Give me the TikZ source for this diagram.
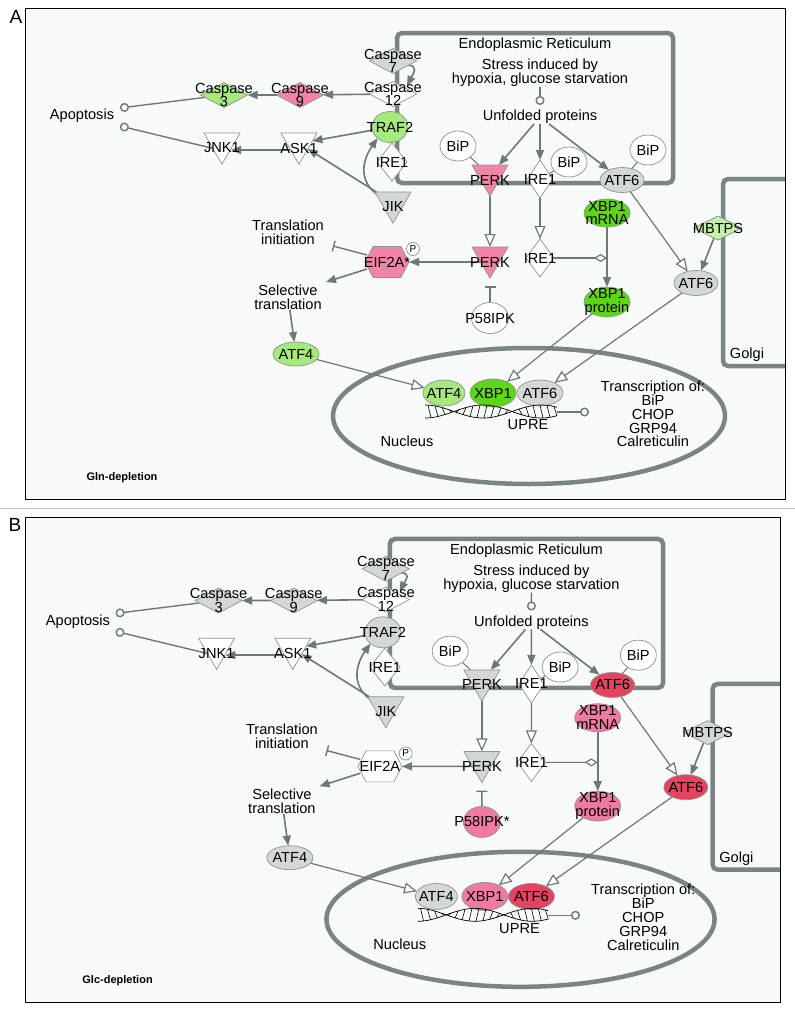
\documentclass[tikz,border=0pt]{standalone}
\usepackage{fontspec}
\setmainfont{Liberation Sans}
\usetikzlibrary{shapes.geometric,shapes.symbols,arrows.meta}
\pgfdeclarelayer{back}
\pgfdeclarelayer{bg}
\pgfsetlayers{back,bg,main}

\definecolor{ipagrey}{HTML}{D3D7D7}
\definecolor{lgreen}{HTML}{A6E97C}
\definecolor{bgreen}{HTML}{5DD616}
\definecolor{pgreen}{HTML}{C6F0A4}
\definecolor{ipapink}{HTML}{F284A6}
\definecolor{bpink}{HTML}{F07AA2}
\definecolor{ipared}{HTML}{E4445F}
\definecolor{conn}{HTML}{6E7878}
\definecolor{compc}{HTML}{7B8484}
\definecolor{shapeline}{HTML}{8C9494}
\definecolor{panelbg}{HTML}{F8F9F9}
\definecolor{sepline}{HTML}{BFBFBF}

\newcommand\ipafont{\fontsize{14.6pt}{13.8pt}\selectfont}

\tikzset{
 txt/.style={font=\ipafont, align=center, inner sep=0pt, text=black},
 shp/.style={draw=shapeline, line width=0.7pt, inner sep=0pt, outer sep=0pt},
 lab/.style={label={[txt]center:#1}},
 klab/.style={label={[txt,yshift=-4.6pt]center:#1}},
 flatdia/.style={shp, diamond, minimum width=47pt, minimum height=25pt},
 talldia/.style={shp, diamond, minimum width=28pt, minimum height=38pt},
 kin/.style={shp, regular polygon, regular polygon sides=3, shape border rotate=180, minimum size=41.6pt},
 tf/.style={shp, ellipse, minimum width=44pt, minimum height=25pt},
 bip/.style={shp, ellipse, fill=white, minimum width=36pt, minimum height=30pt, lab=BiP},
 act/.style={draw=conn, line width=1.6pt, -{Triangle[length=10pt,width=8pt]}},
 trans/.style={draw=conn, line width=1.2pt, -{Triangle[length=13pt,width=11pt,fill=white]}},
 inh/.style={draw=conn, line width=1.4pt, -{Bar[width=11pt]}},
 leads/.style={draw=conn, line width=1.4pt, -{Circle[length=9pt,fill=panelbg]}},
 dtip/.style={draw=conn, line width=1.2pt, -{Diamond[length=13pt,width=8pt,fill=white]}},
 plainln/.style={draw=conn, line width=1pt},
 compart/.style={draw=compc, line width=4.5pt},
 dna/.style={draw=black, line width=0.7pt},
}

\newcommand\drawpanel{%
 % ---------- nodes ----------
 \node[flatdia, fill=ipagrey, lab={Caspase\\7}] (c7) at (393,\csevy) {};
 \node[flatdia, fill=white, lab={Caspase\\12}] (c12) at (393,94) {};
 \node[flatdia, fill=cCnine, lab={Caspase\\9}] (c9) at (300,95) {};
 \node[flatdia, fill=cCthree, lab={Caspase\\3}] (c3) at (224,95) {};
 \node[shp, ellipse, minimum width=36pt, minimum height=31pt, fill=cTRAF, lab=TRAF2] (traf) at (390,127) {};
 \node[talldia, fill=white, minimum width=30pt, lab=IRE1] (irea) at (392,162) {};
 \node[kin, fill=ipagrey, klab=JIK] (jik) at (393,202.4) {};
 \node[kin, fill=white, klab=ASK1] (ask) at (299,143.4) {};
 \node[kin, fill=white, klab=JNK1] (jnk) at (222,143.4) {};
 \node[txt] (apo) at (82,116) {Apoptosis};
 \coordinate (ap1) at (120,108);
 \coordinate (ap2) at (120,126);
 \node[txt] (er) at (535,45) {Endoplasmic Reticulum};
 \node[txt] (stress) at (540,73) {Stress induced by\\hypoxia, glucose starvation};
 \coordinate (stc) at (540,105);
 \node[txt] (unf) at (540,117) {Unfolded proteins};
 \node[bip] (bipa) at (458,146) {};
 \node[kin, fill=cPERK, klab=PERK] (perka) at (490,175.4) {};
 \node[talldia, fill=white, minimum width=25pt, lab=IRE1] (ireb) at (540,179) {};
 \node[bip] (bipb) at (569,162) {};
 \node[bip] (bipc) at (648,150) {};
 \node[tf, fill=cATFsix, lab=ATF6] (atfa) at (622,180) {};
 \node[kin, fill=cPERK, klab=PERK] (perkb) at (490,257.4) {};
 \node[talldia, fill=white, lab=IRE1] (irec) at (540,258) {};
 \node[tf, fill=cXBPm, minimum width=46pt, minimum height=28pt, lab={XBP1\\mRNA}] (xbpm) at (607,213) {};
 \node[tf, fill=cXBPp, minimum width=46pt, minimum height=30pt, lab={XBP1\\protein}] (xbpp) at (607,302) {};
 \coordinate (xbpj) at (607,258);
 \node[shp, signal, signal to=east and west, signal pointer angle=125, minimum width=44pt, minimum height=31pt, fill=cEIF, lab=\eiftext] (eif) at (387,262) {};
 \node[shp, circle, fill=white, minimum size=13pt, label={[font=\fontsize{10pt}{10pt}\selectfont, inner sep=0pt]center:P}] (pc) at (413,249) {};
 \node[shp, ellipse, minimum width=37pt, minimum height=31pt, fill=cPIK, lab=\piktext] (pik) at (490,318) {};
 \node[txt] (tinit) at (288,232) {Translation\\initiation};
 \coordinate (tiend) at (333,246);
 \node[txt] (sel) at (288,297) {Selective\\translation};
 \coordinate (selend) at (326,282);
 \node[tf, fill=cATFfour, minimum width=46pt, minimum height=24pt, lab=ATF4] (atff) at (296,354) {};
 \node[tf, fill=cATFsix, lab=ATF6] (atfb) at (696,283) {};
 \node[flatdia, fill=cMBT, minimum width=48pt, minimum height=24pt, lab=MBTPS] (mbt) at (718,228) {};
 \node[txt] (golgi) at (747,355) {Golgi};
 \node[tf, fill=cATFfour, minimum width=42pt, minimum height=26pt, lab=ATF4] (atffn) at (444,393) {};
 \node[tf, fill=cXBPn, minimum width=46pt, minimum height=28pt, lab=XBP1] (xbpn) at (493,393) {};
 \node[tf, fill=cATFsix, minimum width=46pt, minimum height=26pt, lab=ATF6] (atfn) at (540,393) {};
 % DNA helix
 \draw[dna] plot[domain=0:132, samples=80, smooth] ({425+\x},{411.5-6.5*cos(\x*3.1034)});
 \draw[dna] plot[domain=0:132, samples=80, smooth] ({425+\x},{411.5+6.5*cos(\x*3.1034)});
 \foreach \t in {3,10,...,129} {
  \draw[dna, line width=0.6pt] ({425+\t},{411.5-6.5*cos(\t*3.1034)}) -- ({428+\t},{411.5+6.5*cos((\t+3)*3.1034)});
 }
 \coordinate (dnae) at (557,412);
 \coordinate (dnac) at (589,412);
 \node[txt] (upre) at (528,425) {UPRE};
 \node[txt] (nuc) at (407,441) {Nucleus};
 \node[txt] (tr) at (653,414) {Transcription of:\\BiP\\CHOP\\GRP94\\Calreticulin};
 \node[font=\bfseries\fontsize{11pt}{11pt}\selectfont, inner sep=0pt] (dep) at (122,478) {\deptext};
 % ---------- compartments and connectors ----------
 \begin{pgfonlayer}{bg}
  \draw[compart, rounded corners=5pt] (397,183) -- (397,33) -- (673,33) -- (673,183) -- cycle;
  \draw[compart, rounded corners=5pt] (\golgix,179) -- (723,179) -- (723,366) -- (\golgix,366);
  \draw[compart] (529,416) ellipse [x radius=196, y radius=68];
  \draw[act] (c12) -- (c9);
  \draw[act] (c9) -- (c3);
  \draw[leads] (c3) -- (ap1);
  \draw[leads] ([shift={(-5,6)}]jnk.center) -- (ap2);
  \draw[act] ([shift={(-9,6.6)}]ask.center) -- ([shift={(9,6.6)}]jnk.center);
  \draw[act] (traf) -- (ask);
  \draw[act] (jik) -- (ask);
  \draw[act] ([shift={(-13,-6)}]jik.center) .. controls +(-24,-15) and +(-14,20) .. (traf.222);
  \draw[act] ([shift={(13,4)}]c7.center) .. controls +(14,0) and +(6,-12) .. ([shift={(14,-8)}]c12.center);
  \draw[leads] (stress) -- (stc);
  \draw[act] (unf) -- (perka);
  \draw[act] (unf) -- (ireb);
  \draw[act] (unf) -- (atfa);
  \draw[plainln] (bipa) -- (perka);
  \draw[plainln] (bipb) -- (ireb);
  \draw[plainln] (bipc) -- (atfa);
  \draw[trans] ([shift={(0,21)}]perka.center) -- ([shift={(0,-10.4)}]perkb.center);
  \draw[trans] (ireb) -- (irec);
  \draw[act] ([shift={(-9,4.6)}]perkb.center) -- (eif.east);
  \draw[inh] ([shift={(-20,-7)}]eif.center) -- (tiend);
  \draw[act] ([shift={(-20,7)}]eif.center) -- (selend);
  \draw[act] (sel) -- (atff);
  \draw[inh] (pik) -- ([shift={(0,29)}]perkb.center);
  \draw[act] (xbpm) -- (xbpp);
  \draw[dtip] (irec) -- (xbpj);
  \draw[trans] (atfa) -- (atfb);
  \draw[act] (mbt) -- (atfb);
  \draw[trans] (atfb) -- (atfn);
  \draw[trans] (xbpp) -- (xbpn);
  \draw[trans] (atff) -- (atffn);
  \draw[leads] (dnae) -- (dnac);
 \end{pgfonlayer}
}

\begin{document}
\begin{tikzpicture}[x=1pt,y=-1pt]
\useasboundingbox (0,0) rectangle (795,1012);
\begin{pgfonlayer}{back}
 \fill[white] (0,0) rectangle (795,1012);
 \draw[black, line width=0.9pt, fill=panelbg] (25,8) rectangle (785,499);
 \draw[sepline, line width=1pt] (0,508) -- (795,508);
 \draw[black, line width=0.9pt, fill=panelbg] (25,517) rectangle (780,1002);
\end{pgfonlayer}
\node[font=\fontsize{19pt}{19pt}\selectfont, inner sep=0pt] (labA) at (16,17) {A};
\node[font=\fontsize{19pt}{19pt}\selectfont, inner sep=0pt] (labB) at (15,525) {B};

\begin{scope}[name prefix=A-]
 \colorlet{cCnine}{ipapink}\colorlet{cCthree}{lgreen}\colorlet{cTRAF}{lgreen}
 \colorlet{cPERK}{ipapink}\colorlet{cEIF}{ipapink}\colorlet{cPIK}{white}
 \colorlet{cATFsix}{ipagrey}\colorlet{cXBPm}{bgreen}\colorlet{cXBPp}{bgreen}\colorlet{cXBPn}{bgreen}
 \colorlet{cMBT}{pgreen}\colorlet{cATFfour}{lgreen}
 \def\eiftext{EIF2A*}\def\piktext{P58IPK}\def\deptext{Gln-depletion}
 \def\csevy{61}\def\golgix{785}
 \drawpanel
\end{scope}

\begin{scope}[name prefix=B-, shift={(-3.2,506.2)}, xscale=0.99, yscale=0.993]
 \colorlet{cCnine}{ipagrey}\colorlet{cCthree}{ipagrey}\colorlet{cTRAF}{ipagrey}
 \colorlet{cPERK}{ipagrey}\colorlet{cEIF}{white}\colorlet{cPIK}{bpink}
 \colorlet{cATFsix}{ipared}\colorlet{cXBPm}{bpink}\colorlet{cXBPp}{bpink}\colorlet{cXBPn}{bpink}
 \colorlet{cMBT}{ipagrey}\colorlet{cATFfour}{ipagrey}
 \def\eiftext{EIF2A}\def\piktext{P58IPK*}\def\deptext{Glc-depletion}
 \def\csevy{63}\def\golgix{791}
 \drawpanel
\end{scope}
\end{tikzpicture}
\end{document}
